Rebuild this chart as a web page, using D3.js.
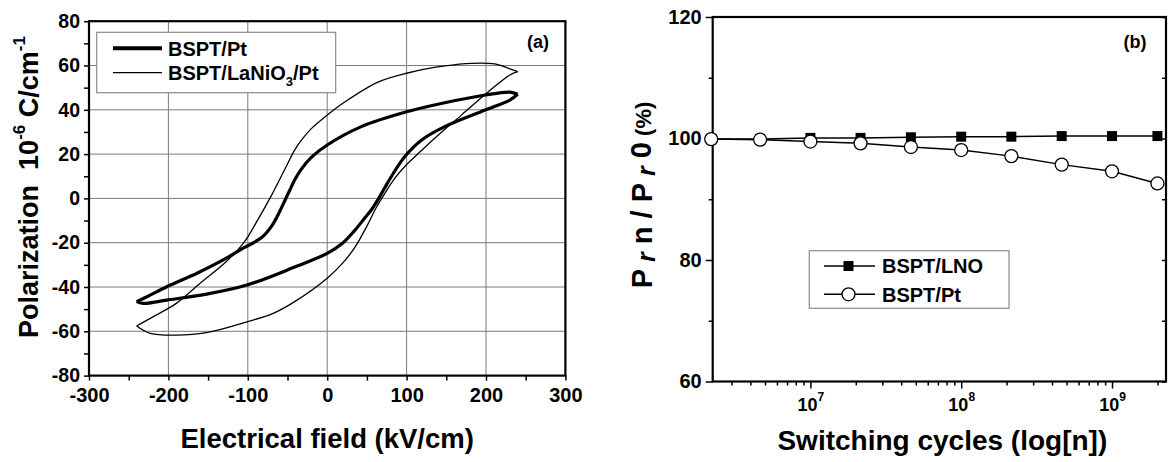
<!DOCTYPE html>
<html><head><meta charset="utf-8">
<script src="https://cdn.jsdelivr.net/npm/d3@7"></script>
<style>
body{margin:0;background:#fff}
svg{display:block}
text{font-family:"Liberation Sans",Arial,sans-serif;font-weight:bold;fill:#000}
</style>
</head><body>
<svg id="c" width="1173" height="462"></svg>
<script>
// ---- panel (a): P-E hysteresis loops ----
const eTicks = [-300, -200, -100, 0, 100, 200, 300];
const eMinor = [-250, -150, -50, 50, 150, 250];
const pTicks = [-80, -60, -40, -20, 0, 20, 40, 60, 80];
const pMinor = [-70, -50, -30, -10, 10, 30, 50, 70];
// BSPT/Pt (thick): upper branch (+Emax -> -Emax), lower branch (-Emax -> +Emax)
const ptUpper = [[240,47],[230,48],[199,46.7],[148,43.2],[100,39.1],[43,32.4],[0,24.1],[-20,18.5],[-33,13],[-41,8.3],[-47,3.8],[-53,-0.7],[-60,-6],[-70,-12.5],[-83,-17.8],[-106,-22.5],[-127,-27],[-164,-33.8],[-202,-39.9],[-227,-44.4],[-240,-46.6]];
const ptLower = [[-240,-46.6],[-232,-47.4],[-202,-45.9],[-152,-43.2],[-101,-39.1],[-41,-31],[0,-24.8],[20,-20],[35,-14.3],[47,-9],[56,-5],[64,-0.5],[72,4.5],[81,10],[98,19],[119,26.4],[148,32.4],[199,39.9],[230,44.4],[240,47]];
// BSPT/LaNiO3/Pt (thin)
const lnoUpper = [[240,57.2],[230,58.5],[211,60.7],[182,61],[148,59.8],[100,56.5],[64,52.5],[22,43.5],[0,37.6],[-20,31.5],[-32,26.5],[-41,21.8],[-55,12],[-70,1.5],[-88,-10],[-105,-20],[-127,-28.5],[-160,-38.3],[-190,-47.4],[-215,-52.6],[-240,-57.6]];
const lnoLower = [[-240,-57.6],[-223,-60.9],[-190,-61.7],[-152,-60.6],[-101,-55.7],[-68,-51.9],[-41,-46.6],[0,-36],[20,-29],[35,-22],[50,-12.5],[62,-4],[73,2.5],[85,9],[98,14.5],[111,19],[140,28.6],[169,37.6],[203,48.2],[230,55.7],[240,57.2]];
const loopNames = ["BSPT/Pt", "BSPT/LaNiO3/Pt"];

// ---- panel (b): fatigue ----
const cycles = [2.2e6, 4.64e6, 1e7, 2.15e7, 4.64e7, 1e8, 2.15e8, 4.64e8, 1e9, 2e9];
const lnoRatio = [99.9, 99.9, 100.1, 100.1, 100.2, 100.3, 100.3, 100.4, 100.4, 100.4];
const ptRatio = [99.9, 99.8, 99.5, 99.2, 98.6, 98.1, 97.1, 95.7, 94.6, 92.6];
const ratioTicks = [60, 80, 100, 120];
const ratioMinor = [70, 90, 110];
const cycleTicks = [1e7, 1e8, 1e9];
const cycleExp = [7, 8, 9];
const fatigueNames = ["BSPT/LNO", "BSPT/Pt"];

const svg = d3.select("#c");
const fmtInt = d => String(d); // plain hyphen minus like the original

// ======== Panel A ========
const xA = d3.scaleLinear().domain([-300, 300]).range([89, 565.4]);
const yA = d3.scaleLinear().domain([-80, 80]).range([375.6, 21.2]);
const gA = svg.append("g");

// grid
gA.selectAll("line.gx").data(eTicks.slice(1, -1)).join("line")
  .attr("x1", d => xA(d)).attr("x2", d => xA(d)).attr("y1", yA(-80)).attr("y2", yA(80))
  .attr("stroke", "#7a7a7a").attr("stroke-width", 1);
gA.selectAll("line.gy").data(pTicks.slice(1, -1)).join("line")
  .attr("y1", d => yA(d)).attr("y2", d => yA(d)).attr("x1", xA(-300)).attr("x2", xA(300))
  .attr("stroke", "#7a7a7a").attr("stroke-width", 1);

// axes
const gax = gA.append("g").attr("transform", `translate(0,${yA(-80)})`)
  .call(d3.axisBottom(xA).tickValues(eTicks).tickSize(5).tickPadding(4).tickFormat(fmtInt));
gax.select(".domain").remove();
gax.selectAll("line").attr("stroke-width", 1.5);
gax.selectAll("text").attr("font-size", 20).attr("dy", "0.85em");
gA.append("g").attr("transform", `translate(0,${yA(-80)})`)
  .call(d3.axisBottom(xA).tickValues(eMinor).tickSize(5).tickFormat(""))
  .call(g => { g.select(".domain").remove(); g.selectAll("line").attr("stroke-width", 1.5); });

const gay = gA.append("g").attr("transform", `translate(${xA(-300)},0)`)
  .call(d3.axisLeft(yA).tickValues(pTicks).tickSize(5).tickPadding(4).tickFormat(fmtInt));
gay.select(".domain").remove();
gay.selectAll("line").attr("stroke-width", 1.5);
gay.selectAll("text").attr("font-size", 19.5);
gA.append("g").attr("transform", `translate(${xA(-300)},0)`)
  .call(d3.axisLeft(yA).tickValues(pMinor).tickSize(5).tickFormat(""))
  .call(g => { g.select(".domain").remove(); g.selectAll("line").attr("stroke-width", 1.5); });

// curves
const lineA = d3.line().x(d => xA(d[0])).y(d => yA(d[1])).curve(d3.curveCatmullRom.alpha(0.5));
[[lnoUpper, 1.3], [lnoLower, 1.3], [ptUpper, 3.2], [ptLower, 3.2]].forEach(([data, w]) => {
  gA.append("path").attr("d", lineA(data)).attr("fill", "none").attr("stroke", "#000")
    .attr("stroke-width", w).attr("stroke-linejoin", "round");
});

// frame
gA.append("rect").attr("x", xA(-300)).attr("y", yA(80)).attr("width", xA(300) - xA(-300))
  .attr("height", yA(-80) - yA(80)).attr("fill", "none").attr("stroke", "#000").attr("stroke-width", 2.2);

// legend
const legA = gA.append("g");
legA.append("rect").attr("x", 96.7).attr("y", 32.3).attr("width", 239).attr("height", 60.4)
  .attr("fill", "#fff").attr("stroke", "#8a8a8a").attr("stroke-width", 1.2);
[[48.3, 4, loopNames[0]], [72.7, 1.3, null]].forEach(([y, w, name]) => {
  legA.append("line").attr("x1", 113).attr("x2", 162).attr("y1", y).attr("y2", y)
    .attr("stroke", "#000").attr("stroke-width", w);
  const t = legA.append("text").attr("x", 168).attr("y", y).attr("dy", "0.36em").attr("font-size", 20);
  if (name) t.text(name);
  else {
    t.append("tspan").text("BSPT/LaNiO");
    t.append("tspan").attr("font-size", 13).attr("dy", "0.45em").text("3");
    t.append("tspan").attr("dy", "-0.3em").text("/Pt");
  }
});
gA.append("text").attr("x", 538).attr("y", 42).attr("dy", "0.36em").attr("text-anchor", "middle")
  .attr("font-size", 18).text("(a)");

// axis titles
gA.append("text").attr("x", (xA(-300) + xA(300)) / 2).attr("y", 448).attr("text-anchor", "middle")
  .attr("font-size", 27.5).text("Electrical field (kV/cm)");
const yt = gA.append("text").attr("transform", "translate(38,187) rotate(-90)").attr("text-anchor", "middle")
  .attr("font-size", 27);
yt.append("tspan").text("Polarization\u00a0\u00a010");
yt.append("tspan").attr("font-size", 17).attr("dy", "-0.75em").text("-6");
yt.append("tspan").attr("dy", "0.47em").text(" C/cm");
yt.append("tspan").attr("font-size", 17).attr("dy", "-0.75em").text("-1");

// ======== Panel B ========
const xB = d3.scaleLog().domain([2.25e6, 2.28e9]).range([712.7, 1166]);
const yB = d3.scaleLinear().domain([60, 120]).range([381.5, 17]);
const gB = svg.append("g");

// minor x ticks
const minorX = [];
for (let e = 6; e <= 9; e++) for (let m = 2; m <= 9; m++) {
  const v = m * Math.pow(10, e);
  if (v > xB.domain()[0] && v < xB.domain()[1]) minorX.push(v);
}
gB.append("g").attr("transform", `translate(0,${yB(60)})`)
  .call(d3.axisBottom(xB).tickValues(minorX).tickSize(4).tickFormat(""))
  .call(g => { g.select(".domain").remove(); g.selectAll("line").attr("stroke-width", 1.5); });
const gbx = gB.append("g").attr("transform", `translate(0,${yB(60)})`)
  .call(d3.axisBottom(xB).tickValues(cycleTicks).tickSize(7).tickPadding(5).tickFormat(""));
gbx.select(".domain").remove();
gbx.selectAll("line").attr("stroke-width", 1.5);
gbx.selectAll(".tick").each(function(d, i) {
  const t = d3.select(this).append("text").attr("y", 29).attr("text-anchor", "middle").attr("font-size", 18);
  t.append("tspan").text("10");
  t.append("tspan").attr("font-size", 12).attr("dy", "-0.8em").text(cycleExp[i]);
});

const gby = gB.append("g").attr("transform", `translate(${xB.range()[0]},0)`)
  .call(d3.axisLeft(yB).tickValues(ratioTicks).tickSize(7).tickPadding(4));
gby.select(".domain").remove();
gby.selectAll("line").attr("stroke-width", 1.5);
gby.selectAll("text").attr("font-size", 20);
gB.append("g").attr("transform", `translate(${xB.range()[0]},0)`)
  .call(d3.axisLeft(yB).tickValues(ratioMinor).tickSize(4).tickFormat(""))
  .call(g => { g.select(".domain").remove(); g.selectAll("line").attr("stroke-width", 1.5); });
// mirrored right ticks (inward)
gB.append("g").attr("transform", `translate(${xB.range()[1]},0)`)
  .call(d3.axisLeft(yB).tickValues(ratioTicks.concat(ratioMinor)).tickSize(4).tickFormat(""))
  .call(g => { g.select(".domain").remove(); g.selectAll("line").attr("stroke-width", 1.5); });

// frame
gB.append("rect").attr("x", xB.range()[0]).attr("y", yB(120)).attr("width", xB.range()[1] - xB.range()[0])
  .attr("height", yB(60) - yB(120)).attr("fill", "none").attr("stroke", "#000").attr("stroke-width", 2.2);

// series
const lineB = d3.line().x(d => xB(d[0])).y(d => yB(d[1]));
const lnoPts = cycles.map((c, i) => [c, lnoRatio[i]]);
const ptPts = cycles.map((c, i) => [c, ptRatio[i]]);
gB.append("path").attr("d", lineB(lnoPts)).attr("fill", "none").attr("stroke", "#000").attr("stroke-width", 1.5);
gB.append("path").attr("d", lineB(ptPts)).attr("fill", "none").attr("stroke", "#000").attr("stroke-width", 1.5);
gB.selectAll("rect.sq").data(lnoPts).join("rect").attr("class", "sq")
  .attr("x", d => xB(d[0]) - 5).attr("y", d => yB(d[1]) - 5).attr("width", 10).attr("height", 10)
  .attr("fill", "#000");
gB.selectAll("circle.ci").data(ptPts).join("circle").attr("class", "ci")
  .attr("cx", d => xB(d[0])).attr("cy", d => yB(d[1])).attr("r", 6.5)
  .attr("fill", "#fff").attr("stroke", "#000").attr("stroke-width", 1.3);

// legend
const legB = gB.append("g");
legB.append("rect").attr("x", 809.3).attr("y", 250.7).attr("width", 199.7).attr("height", 57.6)
  .attr("fill", "#fff").attr("stroke", "#8a8a8a").attr("stroke-width", 1.2);
[266, 294.3].forEach((y, i) => {
  legB.append("line").attr("x1", 824).attr("x2", 875).attr("y1", y).attr("y2", y)
    .attr("stroke", "#000").attr("stroke-width", 1.5);
  if (i === 0) legB.append("rect").attr("x", 843.5).attr("y", y - 5).attr("width", 10).attr("height", 10).attr("fill", "#000");
  else legB.append("circle").attr("cx", 848.5).attr("cy", y).attr("r", 6.5).attr("fill", "#fff").attr("stroke", "#000").attr("stroke-width", 1.3);
  legB.append("text").attr("x", 882).attr("y", y).attr("dy", "0.36em").attr("font-size", 20).text(fatigueNames[i]);
});
gB.append("text").attr("x", 1135).attr("y", 42).attr("dy", "0.36em").attr("text-anchor", "middle")
  .attr("font-size", 18).text("(b)");

// axis titles
gB.append("text").attr("x", (xB.range()[0] + xB.range()[1]) / 2 + 3).attr("y", 450).attr("text-anchor", "middle")
  .attr("font-size", 28).text("Switching cycles (log[n])");
const yb = gB.append("text").attr("transform", "translate(652,195) rotate(-90)").attr("text-anchor", "middle")
  .attr("font-size", 29);
yb.append("tspan").text("P");
yb.append("tspan").attr("font-style", "italic").attr("font-size", 25).attr("dy", "0.12em").text(" r");
yb.append("tspan").attr("font-size", 29).attr("dy", "-0.12em").text(" n / P");
yb.append("tspan").attr("font-style", "italic").attr("font-size", 25).attr("dy", "0.12em").text(" r");
yb.append("tspan").attr("font-size", 29).attr("dy", "-0.12em").text(" 0");
yb.append("tspan").attr("font-size", 22).text(" (%)");
</script>
</body></html>
